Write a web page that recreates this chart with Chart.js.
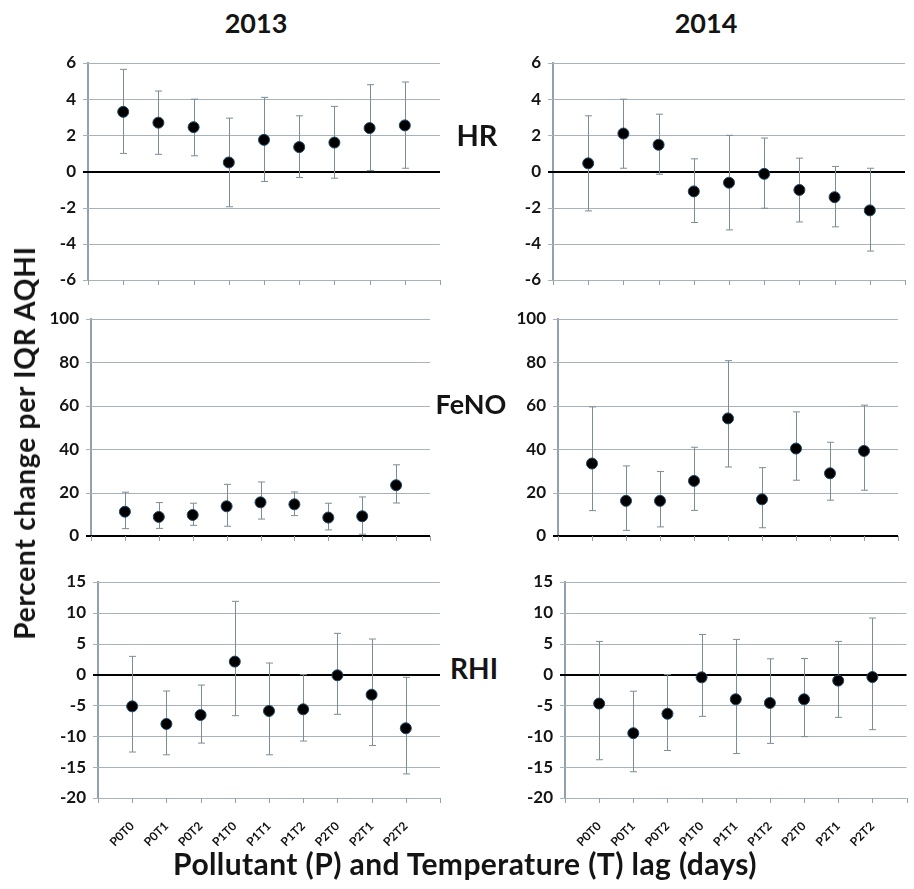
<!DOCTYPE html>
<html>
<head>
<meta charset="utf-8">
<script src="https://cdn.jsdelivr.net/npm/chart.js@4.4.1/dist/chart.umd.min.js"></script>
<style>
  body { margin: 0; background: #fff; }
  #page { position: relative; width: 914px; height: 889px; overflow: hidden;
          font-family: Lato, 'Open Sans', sans-serif; font-weight: bold; color: #141414; }
  canvas { position: absolute; }
  .txt { position: absolute; white-space: nowrap; transform: translate(-50%, -50%); }
</style>
</head>
<body>
<div id="page">
  <canvas id="c-hr2013"></canvas>
  <canvas id="c-hr2014"></canvas>
  <canvas id="c-feno2013"></canvas>
  <canvas id="c-feno2014"></canvas>
  <canvas id="c-rhi2013"></canvas>
  <canvas id="c-rhi2014"></canvas>

  <div class="txt" style="left:256px; top:22px; font-size:27px;">2013</div>
  <div class="txt" style="left:706px; top:22px; font-size:27px;">2014</div>
  <div class="txt" style="left:477px; top:134px; font-size:29px;">HR</div>
  <div class="txt" style="left:471px; top:403px; font-size:27px;">FeNO</div>
  <div class="txt" style="left:474px; top:668px; font-size:28px;">RHI</div>
  <div class="txt" style="left:24px; top:443px; font-size:28px; letter-spacing:0.8px; transform: translate(-50%, -50%) rotate(-90deg);">Percent change per IQR AQHI</div>
  <div class="txt" style="left:465px; top:863px; font-size:30px; letter-spacing:0.4px;">Pollutant (P) and Temperature (T) lag (days)</div>
</div>

<script>
// categories (pollutant / temperature lag)
const categories = ['P0T0', 'P0T1', 'P0T2', 'P1T0', 'P1T1', 'P1T2', 'P2T0', 'P2T1', 'P2T2'];

// HR
const hr2013 = [3.3, 2.7, 2.45, 0.5, 1.75, 1.35, 1.6, 2.4, 2.55];
const hr2013Low = [1.0, 0.95, 0.87, -1.95, -0.55, -0.33, -0.37, 0.05, 0.18];
const hr2013High = [5.65, 4.45, 4.0, 2.95, 4.1, 3.08, 3.6, 4.8, 4.95];
const hr2014 = [0.45, 2.1, 1.48, -1.1, -0.62, -0.13, -1.02, -1.42, -2.15];
const hr2014Low = [-2.18, 0.18, -0.15, -2.82, -3.23, -2.03, -2.79, -3.06, -4.4];
const hr2014High = [3.08, 4.0, 3.17, 0.7, 2.0, 1.85, 0.74, 0.28, 0.18];
const hrTicks = [-6, -4, -2, 0, 2, 4, 6];

// FeNO
const feno2013 = [11.2, 8.8, 9.7, 13.7, 15.5, 14.6, 8.5, 9.1, 23.4];
const feno2013Low = [3.4, 3.5, 4.9, 4.5, 7.8, 9.4, 2.8, 0.8, 15.2];
const feno2013High = [20.2, 15.4, 15.1, 23.8, 24.9, 20.3, 15.1, 18.0, 32.8];
const feno2014 = [33.4, 16.2, 16.2, 25.4, 54.2, 16.9, 40.3, 28.9, 39.2];
const feno2014Low = [11.7, 2.6, 4.2, 11.8, 31.8, 3.8, 25.7, 16.5, 21.1];
const feno2014High = [59.5, 32.3, 29.7, 40.9, 80.8, 31.5, 57.2, 43.2, 60.3];
const fenoTicks = [0, 20, 40, 60, 80, 100];

// RHI
const rhi2013 = [-5.15, -8.0, -6.55, 2.1, -5.9, -5.63, -0.12, -3.26, -8.7];
const rhi2013Low = [-12.55, -13.0, -11.1, -6.66, -13.0, -10.77, -6.44, -11.5, -16.1];
const rhi2013High = [2.95, -2.66, -1.7, 11.87, 1.87, 0.0, 6.68, 5.76, -0.45];
const rhi2014 = [-4.7, -9.5, -6.35, -0.45, -4.0, -4.6, -4.0, -0.98, -0.4];
const rhi2014Low = [-13.8, -15.75, -12.3, -6.77, -12.8, -11.15, -10.06, -6.93, -8.93];
const rhi2014High = [5.37, -2.7, 0.0, 6.5, 5.7, 2.55, 2.6, 5.37, 9.16];
const rhiTicks = [-20, -15, -10, -5, 0, 5, 10, 15];

Chart.defaults.font.family = "Lato, 'Open Sans', sans-serif";
Chart.defaults.font.weight = 'bold';
Chart.defaults.color = '#141414';

const gridColor = '#a9b2b8';
const axisColor = '#8fa2ad';
const barColor = '#7b8d97';

// grid lines + tick marks, drawn from the scales (top/bottom lines included)
const gridPlugin = {
    id: 'panelGrid',
    beforeDatasetsDraw(chart) {
        const ctx = chart.ctx;
        const area = chart.chartArea;
        const xs = chart.scales.x;
        const ys = chart.scales.y;
        ctx.save();
        ys.ticks.forEach(t => {
            let y = Math.round(ys.getPixelForValue(t.value));
            let zero = t.value === 0;
            ctx.strokeStyle = zero ? '#000' : gridColor;
            ctx.lineWidth = zero ? 2 : 1;
            let yy = zero ? y : y + 0.5;
            ctx.beginPath();
            ctx.moveTo(area.left - 5, yy);
            ctx.lineTo(area.right, yy);
            ctx.stroke();
        });
        // small tick marks under the plot
        ctx.strokeStyle = axisColor;
        ctx.lineWidth = 1;
        xs.ticks.forEach(t => {
            let x = Math.round(xs.getPixelForValue(t.value)) + 0.5;
            ctx.beginPath();
            ctx.moveTo(x, area.bottom);
            ctx.lineTo(x, area.bottom + 5);
            ctx.stroke();
        });
        ctx.restore();
    }
};

// draws the vertical error bars under the points
const errorBarPlugin = {
    id: 'errorBars',
    beforeDatasetsDraw(chart) {
        const ctx = chart.ctx;
        const xs = chart.scales.x;
        const ys = chart.scales.y;
        chart.data.datasets.forEach(ds => {
            ctx.save();
            ctx.strokeStyle = barColor;
            ctx.lineWidth = 1;
            for (let i = 0; i < ds.low.length; i++) {
                let x = Math.round(xs.getPixelForValue(i + 1)) + 0.5;
                let yLo = ys.getPixelForValue(ds.low[i]);
                let yHi = ys.getPixelForValue(ds.high[i]);
                ctx.beginPath();
                ctx.moveTo(x, yLo);
                ctx.lineTo(x, yHi);
                ctx.moveTo(x - 3.5, yLo);
                ctx.lineTo(x + 3.5, yLo);
                ctx.moveTo(x - 3.5, yHi);
                ctx.lineTo(x + 3.5, yHi);
                ctx.stroke();
            }
            ctx.restore();
        });
    }
};

/**
 * one panel of the figure
 * box: where the plot area should land on the page
 */
function makePanel(id, values, low, high, yTicks, box, showLabels) {
    const yWidth = 60;
    const padTop = 10;
    const xHeight = showLabels ? 62 : 10;
    const canvas = document.getElementById(id);
    canvas.width = yWidth + (box.right - box.left) + box.padRight;
    canvas.height = padTop + (box.bottom - box.top) + xHeight;
    canvas.style.left = (box.left - yWidth) + 'px';
    canvas.style.top = (box.top - padTop) + 'px';

    let points = [];
    for (let i = 0; i < values.length; i++) {
        points.push({ x: i + 1, y: values[i] });
    }

    new Chart(canvas, {
        type: 'scatter',
        data: {
            datasets: [{
                data: points,
                low: low,
                high: high,
                pointRadius: 5.5,
                pointHoverRadius: 5.5,
                backgroundColor: '#000',
                borderColor: '#1d4766',
                borderWidth: 1
            }]
        },
        options: {
            responsive: false,
            animation: false,
            events: [],
            layout: { padding: { top: padTop, right: box.padRight, left: 0, bottom: 0 } },
            plugins: { legend: { display: false }, tooltip: { enabled: false } },
            scales: {
                x: {
                    type: 'linear',
                    min: 0,
                    max: 10,
                    afterFit: s => {
                        s.height = xHeight;
                        s.paddingLeft = 0;
                        s.paddingRight = 0;
                    },
                    afterBuildTicks: s => {
                        s.ticks = [0, 1, 2, 3, 4, 5, 6, 7, 8, 9, 10].map(v => ({ value: v }));
                    },
                    grid: { display: true, drawOnChartArea: false, drawTicks: false },
                    border: { display: false },
                    ticks: {
                        display: showLabels,
                        autoSkip: false,
                        minRotation: 45,
                        maxRotation: 45,
                        padding: 21,
                        font: { size: 12, weight: 'bold' },
                        callback: v => (v >= 1 && v <= 9) ? categories[v - 1] : ''
                    }
                },
                y: {
                    min: yTicks[0],
                    max: yTicks[yTicks.length - 1],
                    afterFit: s => {
                        s.width = yWidth;
                        s.paddingTop = 0;
                        s.paddingBottom = 0;
                    },
                    afterBuildTicks: s => {
                        s.ticks = yTicks.map(v => ({ value: v }));
                    },
                    grid: { display: true, drawOnChartArea: false, drawTicks: false },
                    border: { color: axisColor, width: 2 },
                    ticks: { padding: 12, font: { size: 17, weight: 'bold' } }
                }
            }
        },
        plugins: [gridPlugin, errorBarPlugin]
    });
}

makePanel('c-hr2013', hr2013, hr2013Low, hr2013High, hrTicks,
    { left: 88, right: 440, top: 63, bottom: 280, padRight: 8 }, false);
makePanel('c-hr2014', hr2014, hr2014Low, hr2014High, hrTicks,
    { left: 553, right: 905, top: 63, bottom: 280, padRight: 8 }, false);
makePanel('c-feno2013', feno2013, feno2013Low, feno2013High, fenoTicks,
    { left: 91, right: 430, top: 319, bottom: 536, padRight: 8 }, false);
makePanel('c-feno2014', feno2014, feno2014Low, feno2014High, fenoTicks,
    { left: 558, right: 898, top: 319, bottom: 536, padRight: 8 }, false);
makePanel('c-rhi2013', rhi2013, rhi2013Low, rhi2013High, rhiTicks,
    { left: 98, right: 440, top: 582, bottom: 798, padRight: 8 }, true);
makePanel('c-rhi2014', rhi2014, rhi2014Low, rhi2014High, rhiTicks,
    { left: 565, right: 907, top: 582, bottom: 798, padRight: 6 }, true);
</script>
</body>
</html>
